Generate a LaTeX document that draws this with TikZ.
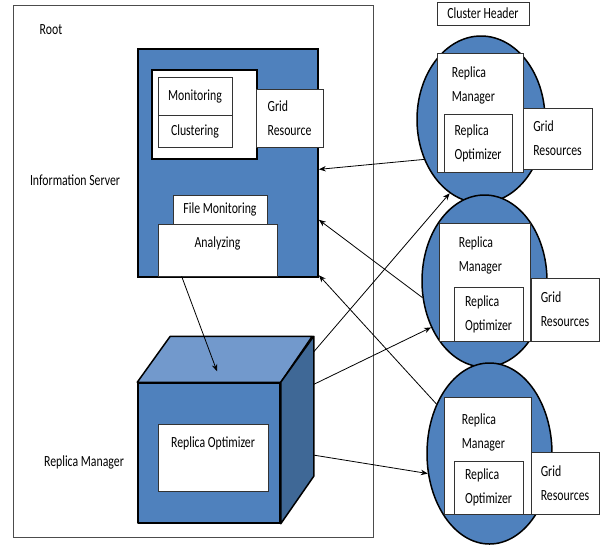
\documentclass[tikz,border=0pt]{standalone}
\usepackage{fontspec}
\setmainfont{Carlito}[FakeStretch=0.76]
\usetikzlibrary{shapes.geometric,positioning,calc,arrows.meta}

\definecolor{officeblue}{RGB}{79,129,189}
\definecolor{cubetop}{RGB}{114,153,204}
\definecolor{cubeside}{RGB}{63,104,150}

\tikzstyle{plainbox} = [rectangle, draw=black!80, line width=0.6pt, fill=white, inner sep=2pt]
\tikzstyle{heavybox} = [rectangle, draw=black, line width=1.8pt, fill=white]
\tikzstyle{server} = [rectangle, draw=black, line width=1.8pt, fill=officeblue]
\tikzstyle{cluster} = [ellipse, draw=black, line width=1.5pt, fill=officeblue, inner sep=0pt]
\tikzstyle{cubeface} = [draw=black, line width=1.5pt, line join=round]
\tikzstyle{lbl} = [anchor=north west, align=left, inner sep=0pt]
\tikzstyle{flow} = [line width=0.8pt,->,>={Stealth[length=7pt,width=5.5pt]}]

\begin{document}
\begin{tikzpicture}[x=1pt, y=-1pt, font=\fontsize{15.5}{24}\selectfont]
      \useasboundingbox (0,0) rectangle (601,546);
      \node (root) [rectangle, draw=black!70, line width=0.7pt, minimum width=360pt, minimum height=532pt] at (193,271) {};
      \node (roottxt) at (51,30) {Root};
      \node (infotxt) at (75,180) {Information Server};
      \node (mantxt) at (84,462) {Replica Manager};

      % information server
      \node (info) [server, minimum width=180pt, minimum height=228pt] at (228,163) {};
      \node (core) [heavybox, minimum width=105pt, minimum height=89pt] at (204.5,114.5) {};
      \node (mon) [plainbox, minimum width=74pt, minimum height=38pt] at (195,96) {Monitoring};
      \node (clu) [plainbox, minimum width=74pt, minimum height=32pt, below=0pt of mon] {Clustering};
      \node (grid) [plainbox, minimum width=67pt, minimum height=58pt, align=left] at (289.5,118) {Grid\\Resource};
      \node (fmon) [plainbox, minimum width=94pt, minimum height=29pt] at (220,209.5) {File Monitoring};
      \node (ana) [plainbox, minimum width=119pt, minimum height=52pt, text depth=16pt] at (217.5,250) {Analyzing};

      % replica manager cube
      \node (cube) [rectangle, cubeface, fill=officeblue, minimum width=142pt, minimum height=140pt] at (209,453) {};
      \draw [cubeface, fill=cubetop] (cube.north west) -- ++(33,-46) -- ++(142,0) -- (cube.north east) -- cycle;
      \draw [cubeface, fill=cubeside] (cube.north east) -- ++(33,-46) -- ++(0,140) -- (cube.south east) -- cycle;
      \node (copt) [plainbox, minimum width=110pt, minimum height=67pt, text depth=31pt] at (213,457.5) {Replica Optimizer};

      % clusters
      \node (e1) [cluster, minimum width=128pt, minimum height=167pt] at (481,119.5) {};
      \node (mgr1) [plainbox, minimum width=86pt, minimum height=119pt, label={[lbl, xshift=15pt, yshift=-14pt]north west:Replica\\Manager}] at (480,112.5) {};
      \node (opt1) [plainbox, minimum width=68pt, minimum height=58pt, align=left] at (478,143) {Replica\\Optimizer};
      \node (grid1) [plainbox, minimum width=69pt, minimum height=61pt, align=left] at (557.5,138.5) {Grid\\Resources};

      \node (e2) [cluster, minimum width=125pt, minimum height=172pt] at (484.5,281) {};
      \node (mgr2) [plainbox, minimum width=91pt, minimum height=118pt, label={[lbl, xshift=20pt, yshift=-14pt]north west:Replica\\Manager}] at (484.5,282) {};
      \node (opt2) [plainbox, minimum width=69pt, minimum height=54pt, align=left] at (488.5,314) {Replica\\Optimizer};
      \node (grid2) [plainbox, minimum width=68pt, minimum height=63pt, align=left] at (565,309.5) {Grid\\Resources};

      \node (e3) [cluster, minimum width=125pt, minimum height=181pt] at (489.5,453.5) {};
      \node (mgr3) [plainbox, minimum width=87pt, minimum height=117pt, label={[lbl, xshift=18pt, yshift=-17pt]north west:Replica\\Manager}] at (487.5,455.5) {};
      \node (opt3) [plainbox, minimum width=69pt, minimum height=53pt, align=left] at (488.5,487.5) {Replica\\Optimizer};
      \node (grid3) [plainbox, minimum width=68pt, minimum height=62pt, align=left] at (565,483) {Grid\\Resources};

      \node (head) [plainbox, minimum width=92pt, minimum height=23pt] at (483,13.5) {Cluster Header};

      % connectors
      \coordinate (backtop) at ([shift={(33,-46)}]cube.north east);
      \coordinate (backbot) at ([shift={(33,-46)}]cube.south east);
      \coordinate (cubetop) at ([shift={(8,-11)}]cube.north);
      \draw [flow] ($(ana.south west)!0.2!(ana.south east)$) -- (cubetop);
      \draw [flow] (e1.215) -- (info.-4);
      \draw [flow] (e2.195) -- (info.-32);
      \draw [flow] (e3.137) -- (info.-51);
      \draw [flow] ($(backtop)!0.11!(backbot)$) -- (e1.247);
      \draw [flow] ($(backtop)!0.34!(backbot)$) -- (e2.221);
      \draw [flow] ($(backtop)!0.84!(backbot)$) -- (e3.198);
\end{tikzpicture}
\end{document}
